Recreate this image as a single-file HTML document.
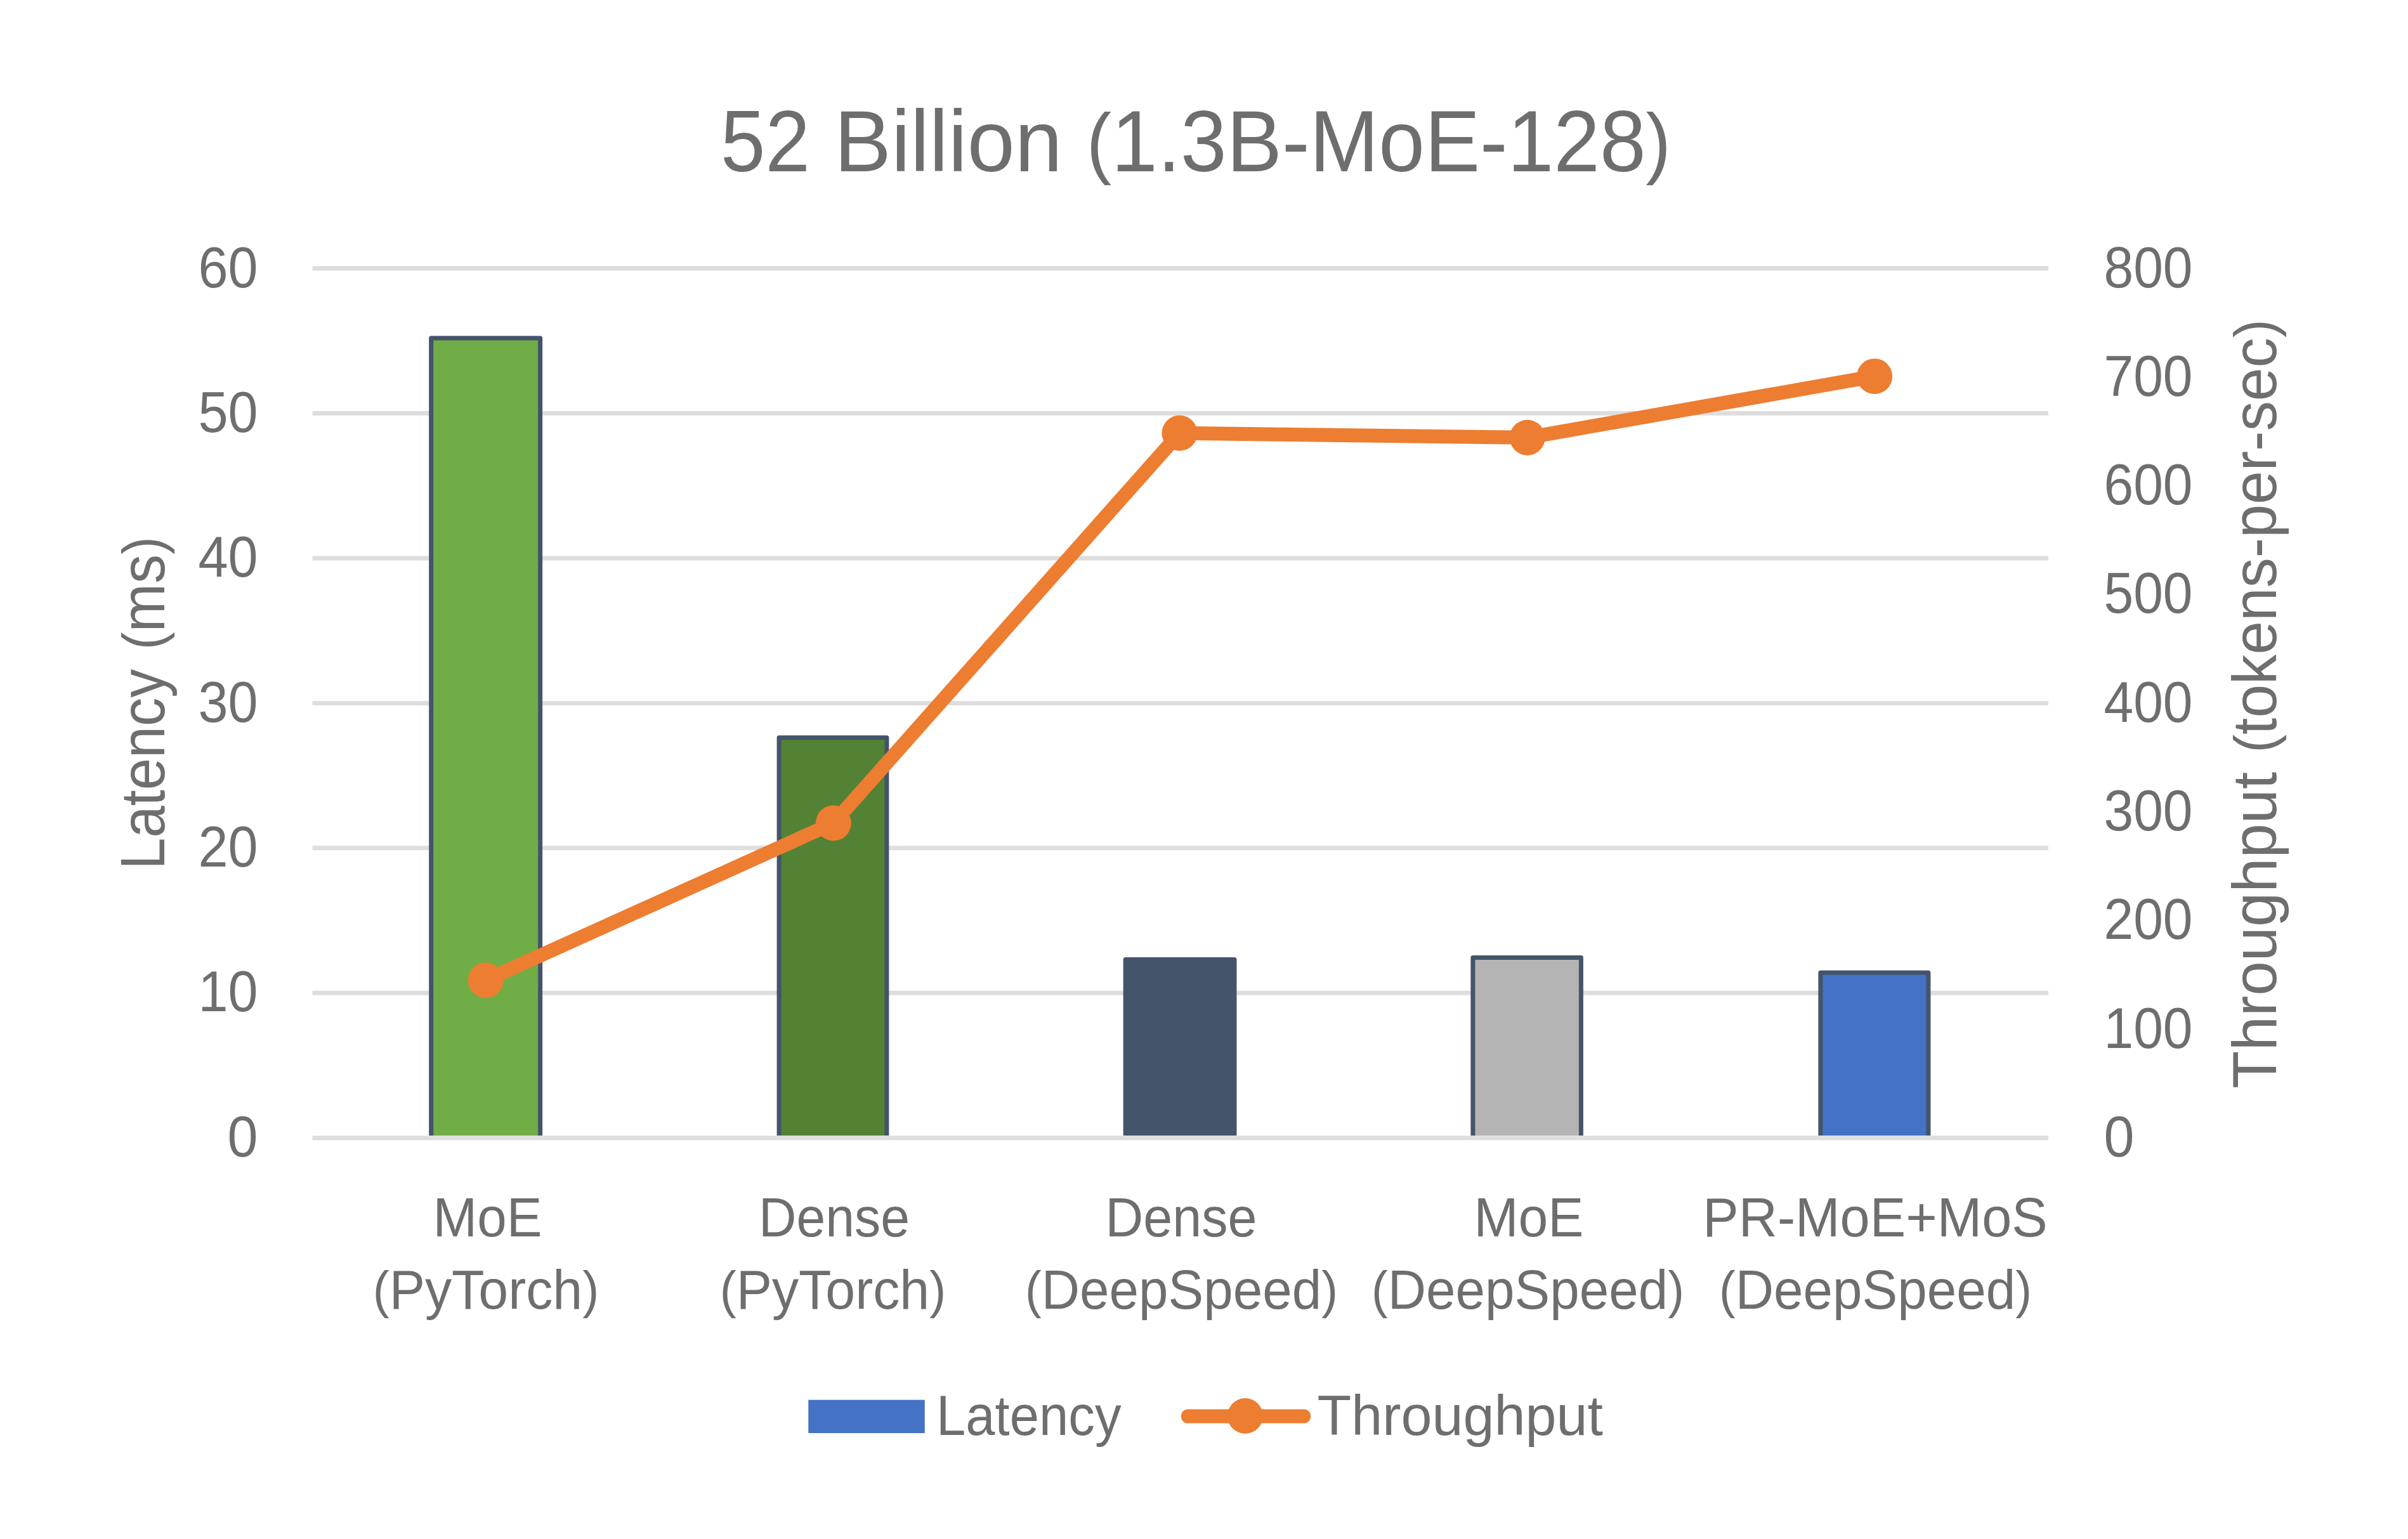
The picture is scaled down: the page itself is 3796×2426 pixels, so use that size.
<!DOCTYPE html>
<html>
<head>
<meta charset="utf-8">
<style>
html,body{margin:0;padding:0;background:#ffffff;overflow:hidden;}
svg{display:block;}
text{font-family:"Liberation Sans",sans-serif;fill:#6e6e6e;}
</style>
</head>
<body>
<svg width="3796" height="2426" viewBox="0 0 3796 2426">
<rect x="0" y="0" width="3796" height="2426" fill="#ffffff"/>

<!-- title -->
<g font-size="137">
<text x="1136" y="270" textLength="140.8" lengthAdjust="spacingAndGlyphs">52</text>
<text x="1315" y="270" textLength="359.7" lengthAdjust="spacingAndGlyphs">Billion</text>
<text x="1712.7" y="270" textLength="921.3" lengthAdjust="spacingAndGlyphs"><tspan font-size="124" dy="-3.8">(</tspan><tspan dy="3.8">1.3B-MoE-128</tspan><tspan font-size="124" dy="-3.8">)</tspan></text>
</g>

<!-- gridlines -->
<g stroke="#dedede" stroke-width="7">
<line x1="492.5" y1="422.9" x2="3229" y2="422.9"/>
<line x1="492.5" y1="651.4" x2="3229" y2="651.4"/>
<line x1="492.5" y1="879.9" x2="3229" y2="879.9"/>
<line x1="492.5" y1="1108.4" x2="3229" y2="1108.4"/>
<line x1="492.5" y1="1336.8" x2="3229" y2="1336.8"/>
<line x1="492.5" y1="1565.3" x2="3229" y2="1565.3"/>
<line x1="492.5" y1="1793.8" x2="3229" y2="1793.8"/>
</g>

<!-- bars -->
<rect x="679.7" y="533.0" width="171.9" height="1257.0" fill="#70ad47"/>
<path d="M679.7,1790 V533.0 H851.6 V1790" fill="none" stroke="#44546a" stroke-width="7" stroke-linejoin="round"/>
<rect x="1228.1" y="1162.8" width="169.8" height="627.2" fill="#548235"/>
<path d="M1228.1,1790 V1162.8 H1397.9 V1790" fill="none" stroke="#44546a" stroke-width="7" stroke-linejoin="round"/>
<rect x="1774.2" y="1512.4" width="171.8" height="277.6" fill="#44546a"/>
<path d="M1774.2,1790 V1512.4 H1946.0 V1790" fill="none" stroke="#44546a" stroke-width="7" stroke-linejoin="round"/>
<rect x="2321.9" y="1509.6" width="170.5" height="280.4" fill="#b4b4b4"/>
<path d="M2321.9,1790 V1509.6 H2492.4 V1790" fill="none" stroke="#44546a" stroke-width="7" stroke-linejoin="round"/>
<rect x="2869.9" y="1533.3" width="170.0" height="256.7" fill="#4472c4"/>
<path d="M2869.9,1790 V1533.3 H3039.9 V1790" fill="none" stroke="#44546a" stroke-width="7" stroke-linejoin="round"/>

<!-- line -->
<polyline points="765.7,1545.2 1313.9,1297.4 1859.5,682.7 2407.8,689.8 2955.1,593.2" fill="none" stroke="#ed7d31" stroke-width="22" stroke-linejoin="round"/>
<g fill="#ed7d31">
<circle cx="765.7" cy="1545.2" r="28"/>
<circle cx="1313.9" cy="1297.4" r="28"/>
<circle cx="1859.5" cy="682.7" r="28"/>
<circle cx="2407.8" cy="689.8" r="28"/>
<circle cx="2955.1" cy="593.2" r="28"/>
</g>

<!-- left axis labels -->
<g font-size="90" text-anchor="end">
<text x="406.5" y="452.5" textLength="94" lengthAdjust="spacingAndGlyphs">60</text>
<text x="406.5" y="680.8" textLength="94" lengthAdjust="spacingAndGlyphs">50</text>
<text x="406.5" y="909.1" textLength="94" lengthAdjust="spacingAndGlyphs">40</text>
<text x="406.5" y="1137.5" textLength="94" lengthAdjust="spacingAndGlyphs">30</text>
<text x="406.5" y="1365.8" textLength="94" lengthAdjust="spacingAndGlyphs">20</text>
<text x="406.5" y="1594.1" textLength="94" lengthAdjust="spacingAndGlyphs">10</text>
<text x="406.5" y="1823.0" textLength="48" lengthAdjust="spacingAndGlyphs">0</text>
</g>

<!-- right axis labels -->
<g font-size="90" text-anchor="start">
<text x="3316.5" y="452.5" textLength="140" lengthAdjust="spacingAndGlyphs">800</text>
<text x="3316.5" y="623.8" textLength="140" lengthAdjust="spacingAndGlyphs">700</text>
<text x="3316.5" y="795.1" textLength="140" lengthAdjust="spacingAndGlyphs">600</text>
<text x="3316.5" y="966.4" textLength="140" lengthAdjust="spacingAndGlyphs">500</text>
<text x="3316.5" y="1137.8" textLength="140" lengthAdjust="spacingAndGlyphs">400</text>
<text x="3316.5" y="1309.1" textLength="140" lengthAdjust="spacingAndGlyphs">300</text>
<text x="3316.5" y="1480.4" textLength="140" lengthAdjust="spacingAndGlyphs">200</text>
<text x="3316.5" y="1651.7" textLength="140" lengthAdjust="spacingAndGlyphs">100</text>
<text x="3316.5" y="1823.0" textLength="48" lengthAdjust="spacingAndGlyphs">0</text>
</g>

<!-- axis titles -->
<g font-size="97.5">
<text transform="translate(259,1370.7) rotate(-90)" textLength="316.1" lengthAdjust="spacingAndGlyphs">Latency</text>
<text transform="translate(259,1024.3) rotate(-90)" textLength="178.4" lengthAdjust="spacingAndGlyphs"><tspan font-size="89.6" dy="-3">(</tspan><tspan dy="3">ms</tspan><tspan font-size="89.6" dy="-3">)</tspan></text>
<text transform="translate(3588,1715.9) rotate(-90)" textLength="499" lengthAdjust="spacingAndGlyphs">Throughput</text>
<text transform="translate(3588,1186.85) rotate(-90)" textLength="683.6" lengthAdjust="spacingAndGlyphs"><tspan font-size="89.6" dy="-3">(</tspan><tspan dy="3">tokens-per-sec</tspan><tspan font-size="89.6" dy="-3">)</tspan></text>
</g>

<!-- category labels -->
<g font-size="88" text-anchor="middle">
<text x="768.5" y="1949" textLength="172" lengthAdjust="spacingAndGlyphs">MoE</text>
<text x="766" y="2063.2" textLength="356.5" lengthAdjust="spacingAndGlyphs"><tspan font-size="81.5" dy="-2.6">(</tspan><tspan dy="2.6">PyTorch</tspan><tspan font-size="81.5" dy="-2.6">)</tspan></text>
<text x="1315" y="1949" textLength="238" lengthAdjust="spacingAndGlyphs">Dense</text>
<text x="1313" y="2063.2" textLength="356.5" lengthAdjust="spacingAndGlyphs"><tspan font-size="81.5" dy="-2.6">(</tspan><tspan dy="2.6">PyTorch</tspan><tspan font-size="81.5" dy="-2.6">)</tspan></text>
<text x="1862" y="1949" textLength="239" lengthAdjust="spacingAndGlyphs">Dense</text>
<text x="1862.5" y="2063.2" textLength="493" lengthAdjust="spacingAndGlyphs"><tspan font-size="81.5" dy="-2.6">(</tspan><tspan dy="2.6">DeepSpeed</tspan><tspan font-size="81.5" dy="-2.6">)</tspan></text>
<text x="2410" y="1949" textLength="173" lengthAdjust="spacingAndGlyphs">MoE</text>
<text x="2408.5" y="2063.2" textLength="493" lengthAdjust="spacingAndGlyphs"><tspan font-size="81.5" dy="-2.6">(</tspan><tspan dy="2.6">DeepSpeed</tspan><tspan font-size="81.5" dy="-2.6">)</tspan></text>
<text x="2956" y="1949" textLength="543.5" lengthAdjust="spacingAndGlyphs">PR-MoE+MoS</text>
<text x="2956.5" y="2063.2" textLength="493" lengthAdjust="spacingAndGlyphs"><tspan font-size="81.5" dy="-2.6">(</tspan><tspan dy="2.6">DeepSpeed</tspan><tspan font-size="81.5" dy="-2.6">)</tspan></text>
</g>

<!-- legend -->
<rect x="1274.3" y="2206.7" width="183.5" height="52.4" fill="#4472c4"/>
<text x="1476" y="2262.3" font-size="88.5" textLength="291.5" lengthAdjust="spacingAndGlyphs">Latency</text>
<line x1="1872.7" y1="2232.6" x2="2055.3" y2="2232.6" stroke="#ed7d31" stroke-width="22" stroke-linecap="round"/>
<circle cx="1963" cy="2232" r="28" fill="#ed7d31"/>
<text x="2076.5" y="2262.3" font-size="88.5" textLength="450.5" lengthAdjust="spacingAndGlyphs">Throughput</text>

</svg>
</body>
</html>
